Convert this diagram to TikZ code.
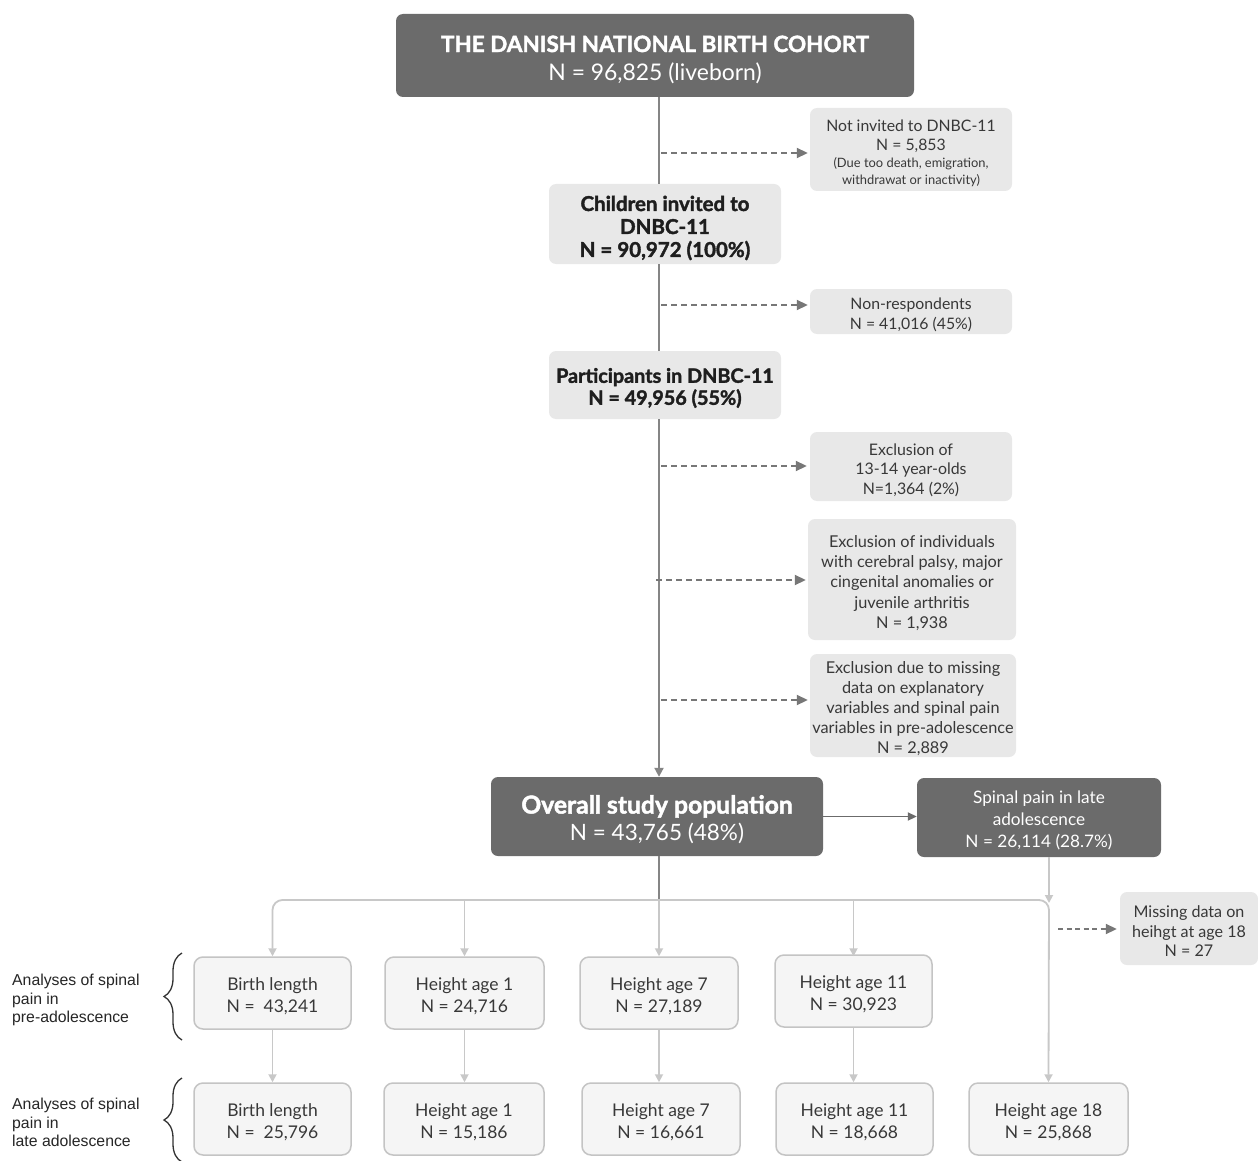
\documentclass[tikz,border=0pt]{standalone}
\usepackage{fontspec}
\setmainfont{Lato}
\newfontfamily\latoheavy{Lato}[BoldFeatures={FakeBold=1.8}]
\newfontfamily\arialf{Liberation Sans}
\usetikzlibrary{arrows.meta,decorations.pathreplacing}
\definecolor{darkfill}{HTML}{6B6B6B}
\definecolor{lightfill}{HTML}{E8E8E8}
\definecolor{rowfill}{HTML}{F5F5F5}
\definecolor{rowborder}{HTML}{C4C4C4}
\definecolor{lightline}{HTML}{C8C8C8}
\definecolor{mainline}{HTML}{858585}
\definecolor{dashcol}{HTML}{777777}
\definecolor{txt}{HTML}{383838}
\definecolor{boldtxt}{HTML}{1E1E1E}
\newcommand\myfs[2]{\fontsize{#1}{#2}\selectfont}
\begin{document}
\begin{tikzpicture}[x=1pt,y=-1pt,
  darkbox/.style={fill=darkfill,rounded corners=7pt,inner sep=0pt},
  lightbox/.style={fill=lightfill,rounded corners=7pt,inner sep=0pt},
  rowbox/.style={fill=rowfill,draw=rowborder,line width=1.5pt,rounded corners=9pt,inner sep=0pt,minimum height=72pt},
  darktext/.style={text=white,align=center,inner sep=0pt},
  lighttext/.style={text=txt,align=center,inner sep=0pt},
  boldtext/.style={text=boldtxt,align=center,inner sep=0pt},
  rowtext/.style={text=txt,align=center,inner sep=0pt,font=\myfs{17.5}{22}},
  spineline/.style={draw=mainline,line width=2pt},
  dasharrow/.style={draw=dashcol,line width=1.8pt,dash pattern=on 6pt off 4pt,-{Triangle[length=11pt,width=10pt]}},
  lightarrow/.style={draw=lightline,line width=1.8pt,-{Triangle[length=8pt,width=8pt]}},
  bracestyle/.style={draw=black!80,line width=1.3pt,decorate,decoration={brace,amplitude=18pt,aspect=0.5}},
  sidelabel/.style={anchor=north west,align=left,inner sep=0pt,font=\arialf\myfs{15.8}{18.5},text=black!85}
]
\useasboundingbox (0,0) rectangle (1258,1161);
\fill[white] (0,0) rectangle (1258,1161);

% spine coordinate
\coordinate (sx) at (659,0);

% main boxes
\node[darkbox,minimum width=518pt,minimum height=83pt] (top) at (655,55.5) {};
\node[darktext,font=\myfs{22.5}{28}] (topt) at ([yshift=-4pt]top.center)
  {\latoheavy\bfseries\myfs{22.5}{28}THE DANISH NATIONAL BIRTH COHORT\\\myfs{22.9}{28}N = 96,825 (liveborn)};
\node[lightbox,minimum width=232pt,minimum height=80pt] (children) at (665,224) {};
\node[boldtext,font=\latoheavy\bfseries\myfs{20.5}{23}] (childrent) at ([yshift=-4pt]children.center)
  {Children invited to\\DNBC-11\\N = 90,972 (100\%)};
\node[lightbox,minimum width=232pt,minimum height=68pt] (particip) at (665,385) {};
\node[boldtext,font=\latoheavy\bfseries\myfs{19.8}{22}] (participt) at ([yshift=-3pt]particip.center)
  {Participants in DNBC-11\\N = 49,956 (55\%)};
\node[darkbox,minimum width=332pt,minimum height=79pt] (overall) at (657,816.5) {};
\node[darktext,font=\myfs{22.5}{27}] (overallt) at ([yshift=-3pt]overall.center)
  {\latoheavy\bfseries\myfs{24.7}{27}Overall study population\\\myfs{22.5}{27}N = 43,765 (48\%)};
\node[darkbox,minimum width=244pt,minimum height=79pt] (spinal) at (1039,817.5) {};
\node[darktext,font=\myfs{17.2}{22}] (spinalt) at ([yshift=-2.5pt]spinal.center)
  {Spinal pain in late\\adolescence\\N = 26,114 (28.7\%)};

% side boxes
\node[lightbox,minimum width=202pt,minimum height=83pt] (notinv) at (911,149.5) {};
\node[lighttext,font=\myfs{15.8}{18.5}] (notinvt) at ([yshift=-4pt]notinv.center)
  {Not invited to DNBC-11\\N = 5,853\\[-1pt]{\myfs{12.9}{16}(Due too death, emigration,}\\[-2pt]{\myfs{12.9}{16}withdrawat or inactivity)}};
\node[lightbox,minimum width=202pt,minimum height=45pt] (nonresp) at (911,311.5) {};
\node[lighttext,font=\myfs{15.8}{20}] (nonrespt) at ([yshift=-3pt]nonresp.center)
  {Non-respondents\\N = 41,016 (45\%)};
\node[lightbox,minimum width=202pt,minimum height=69pt] (excl1) at (911,466.5) {};
\node[lighttext,font=\myfs{15.9}{19.5}] (excl1t) at ([yshift=-3.5pt]excl1.center)
  {Exclusion of\\13-14 year-olds\\N=1,364 (2\%)};
\node[lightbox,minimum width=208pt,minimum height=121pt] (excl2) at (912,579.5) {};
\node[lighttext,font=\myfs{16.3}{20.2}] (excl2t) at ([yshift=-3.5pt]excl2.center)
  {Exclusion of individuals\\with cerebral palsy, major\\cingenital anomalies or\\juvenile arthritis\\N = 1,938};
\node[lightbox,minimum width=206pt,minimum height=103pt] (excl3) at (913,705.5) {};
\node[lighttext,font=\myfs{16.3}{20}] (excl3t) at ([yshift=-3pt]excl3.center)
  {Exclusion due to missing\\data on explanatory\\variables and spinal pain\\variables in pre-adolescence\\N = 2,889};
\node[lightbox,minimum width=138pt,minimum height=73pt] (missing) at (1189,928.5) {};
\node[lighttext,font=\myfs{16.1}{19.5}] (missingt) at ([yshift=-3pt]missing.center)
  {Missing data on\\heihgt at age 18\\N = 27};

% row 1
\node[rowbox,minimum width=157pt] (r1b) at (272.5,993) {};
\node[rowbox,minimum width=159pt] (r1h1) at (464.5,993) {};
\node[rowbox,minimum width=158pt] (r1h7) at (659,993) {};
\node[rowbox,minimum width=157pt] (r1h11) at (853.5,991) {};
% row 2
\node[rowbox,minimum width=157pt] (r2b) at (272.5,1119) {};
\node[rowbox,minimum width=160pt] (r2h1) at (464,1119) {};
\node[rowbox,minimum width=158pt] (r2h7) at (661,1119) {};
\node[rowbox,minimum width=157pt] (r2h11) at (854.5,1119) {};
\node[rowbox,minimum width=159pt] (r2h18) at (1048.5,1119) {};
% row texts
\node[rowtext] (r1bt) at ([yshift=-3pt]r1b.center) {Birth length\\N =\ \ 43,241};
\node[rowtext] (r1h1t) at ([yshift=-3pt]r1h1.center) {Height age 1\\N = 24,716};
\node[rowtext] (r1h7t) at ([yshift=-3pt]r1h7.center) {Height age 7\\N = 27,189};
\node[rowtext] (r1h11t) at ([yshift=-3pt]r1h11.center) {Height age 11\\N = 30,923};
\node[rowtext] (r2bt) at ([yshift=-3pt]r2b.center) {Birth length\\N =\ \ 25,796};
\node[rowtext] (r2h1t) at ([yshift=-3pt]r2h1.center) {Height age 1\\N = 15,186};
\node[rowtext] (r2h7t) at ([yshift=-3pt]r2h7.center) {Height age 7\\N = 16,661};
\node[rowtext] (r2h11t) at ([yshift=-3pt]r2h11.center) {Height age 11\\N = 18,668};
\node[rowtext] (r2h18t) at ([yshift=-3pt]r2h18.center) {Height age 18\\N = 25,868};

% spine
\draw[spineline] (top.south -| sx) -- (children.north -| sx);
\draw[spineline] (children.south -| sx) -- (particip.north -| sx);
\draw[spineline,-{Triangle[length=9pt,width=9pt]}] (particip.south -| sx) -- (overall.north -| sx);

% dashed exclusions
\coordinate (d1) at (661,153);
\coordinate (d2) at (661,305);
\coordinate (d3) at (661,466);
\coordinate (d4) at (656,580);
\coordinate (d5) at (661,700);
\draw[dasharrow] (d1) -- ([xshift=-2pt]notinv.west |- d1);
\draw[dasharrow] (d2) -- ([xshift=-2pt]nonresp.west |- d2);
\draw[dasharrow] (d3) -- ([xshift=-3pt]excl1.west |- d3);
\draw[dasharrow] (d4) -- ([xshift=-2pt]excl2.west |- d4);
\draw[dasharrow] (d5) -- ([xshift=-2pt]excl3.west |- d5);

% overall -> spinal
\draw[draw=darkfill,line width=1.8pt,-{Triangle[length=9pt,width=8pt]}] (overall.east) -- (spinal.west |- overall.east);

% bus
\coordinate (busM) at (659,900);
\coordinate (busR) at (1049,900);
\draw[mainline,line width=1.8pt] (overall.south -| sx) -- (busM);
\draw[lightarrow,rounded corners=10pt,{Triangle[length=8pt,width=8pt]}-{Triangle[length=8pt,width=8pt]}] (r1b.north) |- (busR) -- (r2h18.north);
\draw[lightarrow] (busM) -- (r1h7.north -| sx);
\draw[lightarrow] (r1h1.north |- busM) -- (r1h1.north);
\draw[lightarrow] (r1h11.north |- busM) -- ([yshift=-2pt]r1h11.north);
\draw[lightarrow] (spinal.south -| busR) -- ([yshift=-3pt]busR);

% missing dashed
\coordinate (d6) at (1058,929);
\draw[dasharrow,dash pattern=on 5pt off 3.5pt] (d6) -- ([xshift=-3pt]missing.west |- d6);

% row links
\draw[lightarrow] (r1b.south) -- (r2b.north -| r1b.south);
\draw[lightarrow] (r1h1.south) -- (r2h1.north -| r1h1.south);
\draw[lightarrow] (r1h7.south) -- (r2h7.north -| r1h7.south);
\draw[lightarrow] (r1h11.south) -- (r2h11.north -| r1h11.south);

% braces and labels
\coordinate (b1t) at (182,953);
\coordinate (b1b) at (182,1040);
\coordinate (b2t) at (182,1078);
\coordinate (b2b) at (182,1162);
\draw[bracestyle] (b1b) -- (b1t);
\draw[bracestyle] (b2b) -- (b2t);
\node[sidelabel] (lab1) at (12,974) {Analyses of spinal\\pain in\\pre-adolescence};
\node[sidelabel] (lab2) at (12,1098) {Analyses of spinal\\pain in\\late adolescence};
\end{tikzpicture}
\end{document}
